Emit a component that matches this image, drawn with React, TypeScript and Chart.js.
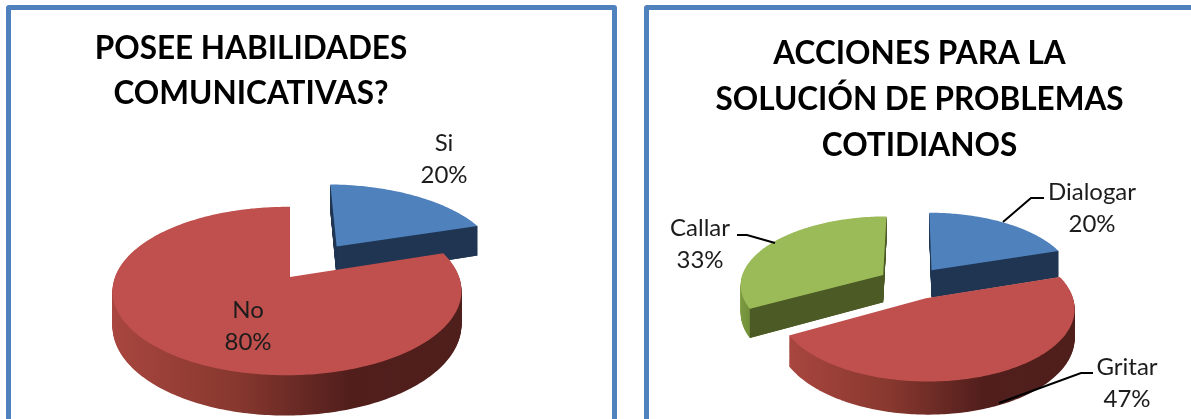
import React, { useEffect, useRef } from "react";
import { Chart, registerables } from "chart.js";

Chart.register(...registerables);

const habilidadesCategories = ["Si", "No"];
const habilidadesValues = [20, 80];
const habilidadesTitle = ["POSEE HABILIDADES", "COMUNICATIVAS?"];

const accionesCategories = ["Dialogar", "Gritar", "Callar"];
const accionesValues = [20, 47, 33];
const accionesTitle = ["ACCIONES PARA LA", "SOLUCIÓN DE PROBLEMAS", "COTIDIANOS"];

const BLUE = "#4f81bd";
const RED = "#c0504d";
const GREEN = "#9bbb59";

type Side = { wall: string | null; stops: [number, string][] };
const blueSide: Side = { wall: "#1f3552", stops: [[0, "#1f3552"], [1, "#1f3552"]] };
const redSide: Side = {
  wall: null,
  stops: [[0, "#a8463f"], [0.35, "#88382f"], [0.68, "#511e1c"], [1, "#4f1f1c"]],
};
const greenSide: Side = { wall: "#4c5a26", stops: [[0, "#7a9a40"], [0.12, "#6b8536"], [0.3, "#4c5a26"], [1, "#4c5a26"]] };

const TILT = 0.476;
const DEPTH = 0.195;

type LabelSpot = { x: number; y: number; leader?: [number, number][] };

type PieConfig = {
  left: number;
  width: number;
  height: number;
  shiftX: number;
  padBottom: number;
  titlePadTop: number;
  titleSize: number;
  titleLine: number;
  radius: number;
  perspective: number;
  sidePerspective: number;
  title: string[];
  categories: string[];
  values: number[];
  colors: string[];
  sides: Side[];
  explode: number[];
  labels: LabelSpot[];
};

const charts: PieConfig[] = [
  {
    left: 0,
    width: 502,
    height: 440,
    shiftX: 39,
    padBottom: 2.5,
    titlePadTop: 26.5,
    titleSize: 31.5,
    titleLine: 45,
    radius: 172,
    perspective: 1 / 6,
    sidePerspective: -0.017,
    title: habilidadesTitle,
    categories: habilidadesCategories,
    values: habilidadesValues,
    colors: [BLUE, RED],
    sides: [blueSide, redSide],
    explode: [85, 0],
    labels: [
      { x: 444, y: 143 },
      { x: 248, y: 310 },
    ],
  },
  {
    left: 648,
    width: 543,
    height: 440,
    shiftX: -7.5,
    padBottom: 43,
    titlePadTop: 31,
    titleSize: 31.5,
    titleLine: 46,
    radius: 143,
    perspective: 0.13,
    sidePerspective: 0,
    title: accionesTitle,
    categories: accionesCategories,
    values: accionesValues,
    colors: [BLUE, RED, GREEN],
    sides: [blueSide, redSide, greenSide],
    explode: [34, 34, 34],
    labels: [
      { x: 1092, y: 192, leader: [[1003, 222], [1031, 198], [1044, 198]] },
      { x: 1127, y: 367, leader: [[999, 403], [1081, 373], [1093, 373]] },
      { x: 700, y: 228, leader: [[775, 243], [747, 235], [737, 235]] },
    ],
  },
];

function makePlugin(cfg: PieConfig) {
  return {
    id: "tiltedPie",
    beforeDatasetsDraw(chart: any) {
      const ctx: CanvasRenderingContext2D = chart.ctx;
      const arcs = chart.getDatasetMeta(0).data as any[];

      const slices = arcs.map((arc, i) => {
        const p = arc.getProps(["x", "y", "startAngle", "endAngle", "outerRadius"], true);
        const mid = (p.startAngle + p.endAngle) / 2;
        const off = (arc.options.offset || 0) / p.outerRadius;
        return { ...p, i, mid, du: Math.cos(mid) * off, dv: Math.sin(mid) * off, color: arc.options.backgroundColor };
      });

      const project = (s: any, u: number, v: number, t: number): [number, number] => {
        const R = s.outerRadius;
        const w = 1 / (1 - cfg.perspective * v - cfg.sidePerspective * u);
        return [s.x + cfg.shiftX + R * u * w, s.y + R * TILT * v * w + t * R * DEPTH * w];
      };

      const outline = (s: any, t: number) => {
        const pts: [number, number][] = [project(s, s.du, s.dv, t)];
        const steps = Math.max(2, Math.ceil(((s.endAngle - s.startAngle) * 180) / Math.PI));
        for (let k = 0; k <= steps; k++) {
          const a = s.startAngle + ((s.endAngle - s.startAngle) * k) / steps;
          pts.push(project(s, s.du + Math.cos(a), s.dv + Math.sin(a), t));
        }
        return pts;
      };

      const fillPts = (pts: [number, number][], style: any) => {
        ctx.beginPath();
        pts.forEach(([x, y], n) => (n ? ctx.lineTo(x, y) : ctx.moveTo(x, y)));
        ctx.closePath();
        ctx.fillStyle = style;
        ctx.fill();
      };

      const order = [...slices].sort((a, b) => a.dv - b.dv);
      for (const s of order) {
        const side = cfg.sides[s.i];
        const top = outline(s, 0);
        const xs = top.map((q) => q[0]);
        const g = ctx.createLinearGradient(Math.min(...xs), 0, Math.max(...xs), 0);
        side.stops.forEach(([o, c]) => g.addColorStop(o, c));
        const layers = Math.ceil(s.outerRadius * DEPTH * 1.3);
        for (let l = layers; l >= 1; l--) fillPts(outline(s, l / layers), g);
        if (side.wall) {
          for (const a of [s.startAngle, s.endAngle]) {
            const u = s.du + Math.cos(a);
            const v = s.dv + Math.sin(a);
            fillPts(
              [project(s, s.du, s.dv, 0), project(s, u, v, 0), project(s, u, v, 1), project(s, s.du, s.dv, 1)],
              side.wall
            );
          }
        }
        fillPts(top, s.color);
      }
      return false;
    },
    afterDraw(chart: any) {
      const ctx: CanvasRenderingContext2D = chart.ctx;
      const total = cfg.values.reduce((a, b) => a + b, 0);
      ctx.save();
      cfg.labels.forEach((spot, i) => {
        if (spot.leader) {
          ctx.beginPath();
          spot.leader.forEach(([x, y], n) => (n ? ctx.lineTo(x - cfg.left, y) : ctx.moveTo(x - cfg.left, y)));
          ctx.strokeStyle = "#000";
          ctx.lineWidth = 2;
          ctx.stroke();
        }
        ctx.font = "24px Lato";
        ctx.fillStyle = "#1c1c1c";
        ctx.textAlign = "center";
        ctx.textBaseline = "middle";
        ctx.fillText(cfg.categories[i], spot.x - cfg.left, spot.y);
        ctx.fillText(`${Math.round((cfg.values[i] / total) * 100)}%`, spot.x - cfg.left, spot.y + 32);
      });
      ctx.restore();
    },
  };
}

function TiltedPie({ cfg }: { cfg: PieConfig }) {
  const ref = useRef<HTMLCanvasElement>(null);
  useEffect(() => {
    const chart = new Chart(ref.current!, {
      type: "pie",
      data: {
        labels: cfg.categories,
        datasets: [
          {
            data: cfg.values,
            backgroundColor: cfg.colors,
            borderWidth: 0,
            offset: cfg.explode,
            radius: cfg.radius,
          } as any,
        ],
      },
      options: {
        responsive: false,
        animation: false,
        layout: { padding: { left: 0, right: 0, bottom: cfg.padBottom, top: 0 } },
        plugins: {
          legend: { display: false },
          tooltip: { enabled: false },
          title: {
            display: true,
            text: cfg.title,
            color: "#000",
            font: { family: "Lato", size: cfg.titleSize, weight: "bold", lineHeight: cfg.titleLine / cfg.titleSize },
            padding: { top: cfg.titlePadTop, bottom: 0 },
          },
        },
      },
      plugins: [makePlugin(cfg)],
    });
    return () => chart.destroy();
  }, [cfg]);
  return (
    <canvas
      ref={ref}
      width={cfg.width}
      height={cfg.height}
      style={{ position: "absolute", left: cfg.left, top: 0, width: cfg.width, height: cfg.height }}
    />
  );
}

const panelStyle: React.CSSProperties = {
  position: "absolute",
  top: 5,
  height: 460,
  border: "5px solid #4f81bd",
  borderRadius: 3,
  boxSizing: "border-box",
  background: "#fff",
};

export default function App() {
  return (
    <div style={{ position: "fixed", left: 0, top: 0, width: 1191, height: 419, overflow: "hidden", background: "#fff" }}>
      <div style={{ ...panelStyle, left: 6, width: 611 }} />
      <div style={{ ...panelStyle, left: 644, width: 600 }} />
      {charts.map((c) => (
        <TiltedPie key={c.left} cfg={c} />
      ))}
    </div>
  );
}
